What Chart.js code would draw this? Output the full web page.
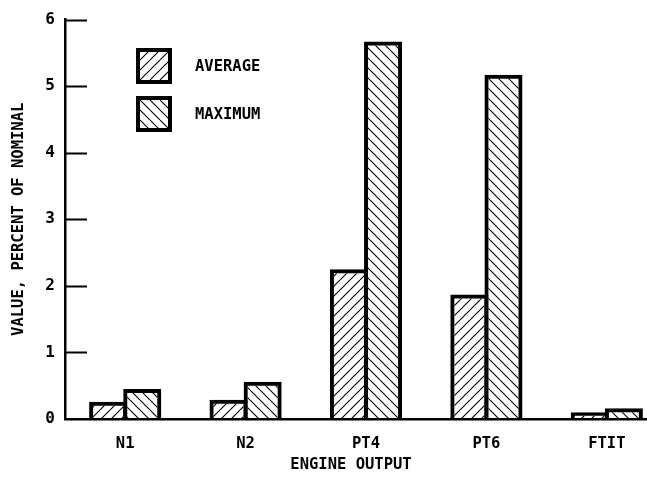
<!DOCTYPE html>
<html>
<head>
<meta charset="utf-8">
<title>Engine output</title>
<script src="https://cdn.jsdelivr.net/npm/chart.js"></script>
<style>
  html, body { margin: 0; padding: 0; background: #fff; overflow: hidden; }
  .wrap { width: 647px; height: 479px; overflow: hidden; }
  #c { display: block; }
</style>
</head>
<body>
<div class="wrap"><canvas id="c" width="680" height="479"></canvas></div>
<script>
const categories = ['N1', 'N2', 'PT4', 'PT6', 'FTIT'];
const averageValues = [0.26, 0.29, 2.25, 1.87, 0.10];
const maximumValues = [0.45, 0.56, 5.67, 5.17, 0.16];
const seriesNames = ['AVERAGE', 'MAXIMUM'];
const yTicks = [0, 1, 2, 3, 4, 5, 6];
const yTitle = 'VALUE, PERCENT OF NOMINAL';
const xTitle = 'ENGINE OUTPUT';

const FONT = '"DejaVu Sans Mono", monospace';

// hatch fill, dir 1 = "/" , dir -1 = "\"
function hatch(dir) {
  const s = 10;
  const p = document.createElement('canvas');
  p.width = s; p.height = s;
  const g = p.getContext('2d');
  g.strokeStyle = '#000';
  g.lineWidth = 1.1;
  g.beginPath();
  for (let k = -1; k <= 1; k++) {
    if (dir > 0) {
      g.moveTo(k * s, s); g.lineTo(k * s + s, 0);
    } else {
      g.moveTo(k * s, 0); g.lineTo(k * s + s, s);
    }
  }
  g.stroke();
  return document.createElement('canvas').getContext('2d').createPattern(p, 'repeat');
}

const avgFill = hatch(1);
const maxFill = hatch(-1);

// tick marks drawn inward from the y axis
const inwardTicks = {
  id: 'inwardTicks',
  afterDraw(chart) {
    const ctx = chart.ctx, y = chart.scales.y, area = chart.chartArea;
    ctx.save();
    ctx.strokeStyle = '#000';
    ctx.lineWidth = 2;
    y.ticks.forEach(t => {
      if (t.value === 0) return;
      const py = Math.round(y.getPixelForValue(t.value)) + 0.5;
      ctx.beginPath();
      ctx.moveTo(area.left, py);
      ctx.lineTo(area.left + 22, py);
      ctx.stroke();
    });
    ctx.restore();
  }
};

const boxLegend = {
  id: 'boxLegend',
  afterDraw(chart) {
    const ctx = chart.ctx;
    ctx.save();
    chart.data.datasets.forEach((ds, i) => {
      const x = 138, y = 50 + i * 48, s = 32;
      ctx.fillStyle = ds.backgroundColor;
      ctx.fillRect(x, y, s, s);
      ctx.strokeStyle = '#000';
      ctx.lineWidth = 4;
      ctx.strokeRect(x, y, s, s);
      ctx.fillStyle = '#000';
      ctx.font = 'bold 15.5px ' + FONT;
      ctx.textBaseline = 'middle';
      ctx.fillText(ds.label, 195, y + s / 2 + 1);
    });
    // x axis title
    ctx.font = 'bold 15.5px ' + FONT;
    ctx.textAlign = 'center';
    ctx.textBaseline = 'middle';
    ctx.fillText(xTitle, 351, 465);
    ctx.restore();
  }
};

new Chart(document.getElementById('c'), {
  type: 'bar',
  data: {
    labels: categories,
    datasets: [
      { label: seriesNames[0], data: averageValues, backgroundColor: avgFill,
        borderColor: '#000', borderWidth: 4, borderSkipped: 'start' },
      { label: seriesNames[1], data: maximumValues, backgroundColor: maxFill,
        borderColor: '#000', borderWidth: 4, borderSkipped: 'start' }
    ]
  },
  plugins: [inwardTicks, boxLegend],
  options: {
    responsive: false,
    animation: false,
    events: [],
    devicePixelRatio: 1,
    datasets: { bar: { categoryPercentage: 0.567, barPercentage: 1.115 } },
    layout: { padding: { top: 14, right: 13, left: 0, bottom: 0 } },
    plugins: { legend: { display: false }, tooltip: { enabled: false } },
    scales: {
      x: {
        grid: { display: false, drawTicks: false },
        border: { display: true, color: '#000', width: 2.5 },
        ticks: { color: '#000', padding: 16, font: { family: FONT, size: 15.5, weight: 'bold' } },
        afterFit(scale) { scale.height = 60; }
      },
      y: {
        min: 0, max: 6,
        afterBuildTicks(scale) { scale.ticks = yTicks.map(v => ({ value: v })); },
        grid: { display: false, drawTicks: false },
        border: { display: true, color: '#000', width: 2.5 },
        ticks: { color: '#000', padding: 10, font: { family: FONT, size: 16, weight: 'bold' } },
        title: { display: true, text: yTitle, color: '#000', padding: { top: 10, bottom: 0 },
                 font: { family: FONT, size: 15.5, weight: 'bold' } },
        afterFit(scale) { scale.width = 65; }
      }
    }
  }
});
</script>
</body>
</html>
